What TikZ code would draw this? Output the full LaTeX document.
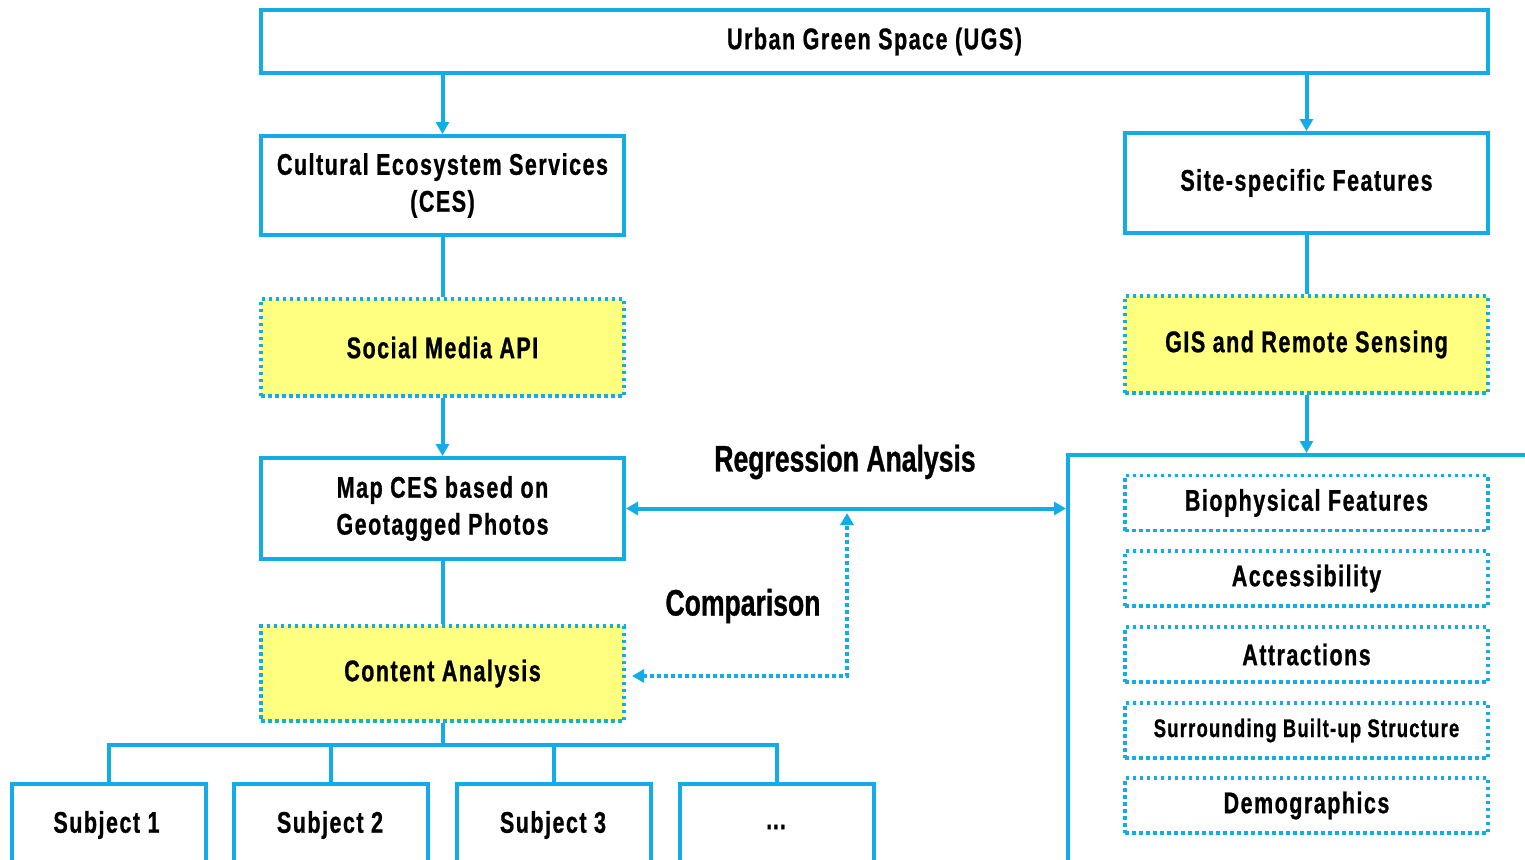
\documentclass[tikz,border=0pt]{standalone}
\usepackage{fontspec}
\setmainfont[FakeStretch=0.72, BoldFeatures={FakeBold=0.8}]{Liberation Sans}
\newfontfamily\boxfont[FakeStretch=0.72, LetterSpace=5, BoldFeatures={FakeBold=0.8}]{Liberation Sans}
\usetikzlibrary{arrows.meta}
\definecolor{ublue}{RGB}{20,172,230}
\definecolor{uyellow}{RGB}{255,255,128}
\def\pxu{0.02cm}
\tikzset{
  solidbox/.style={draw=ublue, line width=4*\pxu, fill=white, align=center, inner sep=0pt,
     font=\boxfont\fontsize{17}{21}\selectfont\bfseries},
  dotbox/.style={draw=ublue, line width=3.5*\pxu, dash pattern=on 3.5*\pxu off 3.5*\pxu,
     align=center, inner sep=0pt, font=\boxfont\fontsize{17}{21}\selectfont\bfseries},
  yelbox/.style={dotbox, fill=uyellow},
  conn/.style={draw=ublue, line width=4*\pxu},
  tip/.style={-{Triangle[width=13*\pxu,length=12*\pxu]}},
  dtip/.style={{Triangle[width=13*\pxu,length=12*\pxu]}-{Triangle[width=13*\pxu,length=12*\pxu]}},
  lbl/.style={font=\fontsize{21}{24}\selectfont\bfseries, inner sep=0pt},
  sublbl/.style={font=\boxfont\fontsize{17}{21}\selectfont\bfseries, inner sep=0pt}
}
\begin{document}
\begin{tikzpicture}[x=0.02cm,y=-0.02cm]
\useasboundingbox (0,0) rectangle (1525,859);
\clip (0,0) rectangle (1525,859);
% top
\node[solidbox, minimum width=1227*\pxu, minimum height=63*\pxu] (ugs) at (874.5,41.5) {Urban Green Space (UGS)};
\node[solidbox, minimum width=363*\pxu, minimum height=99*\pxu] (ces) at (442.5,185.5) {Cultural Ecosystem Services\\(CES)};
\node[solidbox, minimum width=363*\pxu, minimum height=100*\pxu] (site) at (1306.5,183) {Site-specific Features};
\node[yelbox, minimum width=363*\pxu, minimum height=97*\pxu] (sma) at (442.5,347.5) {Social Media API};
\node[yelbox, minimum width=363*\pxu, minimum height=97*\pxu] (gis) at (1306.5,344.5) {GIS and Remote Sensing};
\node[solidbox, minimum width=363*\pxu, minimum height=101*\pxu] (map) at (442.5,508.5) {Map CES based on\\Geotagged Photos};
\node[yelbox, minimum width=363*\pxu, minimum height=95*\pxu] (ca) at (442.5,673.5) {Content Analysis};
% right big box
\node[solidbox, minimum width=532*\pxu, minimum height=495*\pxu] (feat) at (1334,702.5) {};
\node[dotbox, minimum width=363*\pxu, minimum height=55*\pxu] (bio) at (1306.5,503) {Biophysical Features};
\node[dotbox, minimum width=363*\pxu, minimum height=55*\pxu] (acc) at (1306.5,578.5) {Accessibility};
\node[dotbox, minimum width=363*\pxu, minimum height=55*\pxu] (att) at (1306.5,654.5) {Attractions};
\node[dotbox, minimum width=363*\pxu, minimum height=55*\pxu, font=\boxfont\fontsize{14.5}{17}\selectfont\bfseries] (sur) at (1306.5,730.5) {Surrounding Built-up Structure};
\node[dotbox, minimum width=363*\pxu, minimum height=55*\pxu] (dem) at (1306.5,805.5) {Demographics};
% subjects
\node[solidbox, minimum width=194*\pxu, minimum height=116*\pxu] (s1) at (108.5,842) {};
\node[solidbox, minimum width=194*\pxu, minimum height=116*\pxu] (s2) at (331,842) {};
\node[solidbox, minimum width=194*\pxu, minimum height=116*\pxu] (s3) at (554,842) {};
\node[solidbox, minimum width=194*\pxu, minimum height=116*\pxu] (s4) at (777,842) {};
\node[sublbl] (t1) at (106.5,825) {Subject 1};
\node[sublbl] (t2) at (330,825) {Subject 2};
\node[sublbl] (t3) at (553,825) {Subject 3};
\node[sublbl] (t4) at (776,827) {\dots};
% connectors
\draw[conn, tip] (ugs.south -| ces.north) -- (ces.north);
\draw[conn, tip] (ugs.south -| site.north) -- (site.north);
\draw[conn] (ces.south) -- (sma.north);
\draw[conn, tip] (sma.south) -- (map.north);
\draw[conn] (map.south) -- (ca.north);
\draw[conn] (site.south) -- (gis.north);
\draw[conn, tip] (gis.south) -- (gis.south |- feat.north);
\draw[conn, dtip] (map.east) -- (map.east -| feat.west);
% comparison
\coordinate (cmp) at (847,513);
\coordinate (cae) at (632,676);
\draw[draw=ublue, line width=3.5*\pxu, dash pattern=on 3.5*\pxu off 3.5*\pxu, dtip] (cae) -| (cmp);
% tree
\coordinate (bus) at (441,745);
\draw[conn] (ca.south) -- (ca.south |- bus);
\draw[conn] (s1.north) |- (bus) -| (s4.north);
\draw[conn] (s2.north) -- (s2.north |- bus);
\draw[conn] (s3.north) -- (s3.north |- bus);
% labels
\node[lbl] (reg) at (845,462) {Regression Analysis};
\node[lbl] (comp) at (743,606) {Comparison};
\end{tikzpicture}
\end{document}
